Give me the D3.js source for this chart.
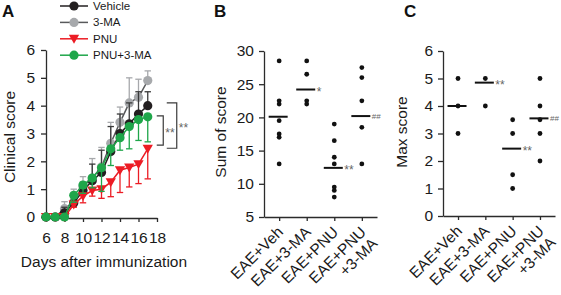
<!DOCTYPE html>
<html>
<head>
<meta charset="utf-8">
<script src="https://cdn.jsdelivr.net/npm/d3@7"></script>
<style>
body { margin: 0; background: #fff; }
svg { display: block; font-family: "Liberation Sans", Arial, sans-serif; }
</style>
</head>
<body>
<div id="chart"></div>
<script>
// ---- panel A: clinical score over time (mean + one-sided SEM)
var days = [6, 7, 8, 9, 10, 11, 12, 13, 14, 15, 16, 17];
var vehicleScore = [0, 0, 0.15, 0.5, 0.95, 1.3, 1.6, 2.35, 3.0, 3.35, 3.7, 4.0];
var vehicleErr   = [0, 0, 0.2, 0.3, 0.3, 0.6, 0.8, 0.9, 0.7, 0.75, 0.8, 0.5];
var maScore      = [0, 0, 0.3, 0.55, 1.1, 1.4, 1.8, 2.65, 3.4, 4.1, 4.3, 4.9];
var maErr        = [0, 0, 0.25, 0.45, 0.35, 0.7, 0.7, 0.75, 0.55, 0.9, 0.65, 0.35];
var pnuScore     = [0, 0, 0, 0.45, 0.75, 0.95, 1.0, 1.25, 1.68, 1.78, 1.9, 2.45];
var pnuErr       = [0, 0, 0, 0.1, 0.24, 0.2, 0.33, 0.52, 0.8, 0.7, 0.7, 1.08];
var pnuMaScore   = [0, 0, 0, 0.78, 1.15, 1.4, 1.77, 2.45, 2.85, 3.25, 3.5, 3.6];
var pnuMaErr     = [0, 0, 0, 0.25, 0.3, 0.35, 0.85, 0.6, 0.45, 0.8, 0.75, 0.9];
var dayTicks = [6, 8, 10, 12, 14, 16, 18];
var scoreTicks = [0, 1, 2, 3, 4, 5, 6];
var legendNames = ["Vehicle", "3-MA", "PNU", "PNU+3-MA"];

// ---- panels B and C: individual animals
var groups = ["EAE+Veh", "EAE+3-MA", "EAE+PNU", "EAE+PNU|+3-MA"];
var sumVeh    = [28.5, 22.5, 22, 19.5, 17.5, 17, 13];
var sumMA     = [28.5, 26.5, 22.5, 22];
var sumPNU    = [19, 16.5, 14, 13, 9.5, 9, 8];
var sumPNUMA  = [27.5, 26, 22.5, 18.5, 13];
var sumMeans  = [20.1, 24.2, 12.4, 20.2];
var sumMarks  = ["", "*", "**", "##"];
var sumTicks  = [5, 10, 15, 20, 25, 30];

var maxVeh    = [5, 4, 3];
var maxMA     = [5, 4];
var maxPNU    = [3.5, 3, 1.5, 1];
var maxPNUMA  = [5, 4, 3.5, 3, 2];
var maxMeans  = [4.0, 4.85, 2.45, 3.55];
var maxMarks  = ["", "**", "**", "##"];
var maxTicks  = [0, 1, 2, 3, 4, 5, 6];

var axisColor = "#2b2b2b", textColor = "#1a1a1a", markColor = "#666";
var fontSize = "15.5px";
var intFormat = d3.format("d");

var svg = d3.select("#chart").append("svg")
    .attr("width", 561)
    .attr("height", 295);
svg.append("rect").attr("width", 561).attr("height", 295).attr("fill", "#fff");

function styleAxis(g) {
    g.attr("font-family", null).attr("font-size", null);
    g.select(".domain").attr("stroke", axisColor).attr("stroke-width", 1.3);
    g.selectAll(".tick line").attr("stroke", axisColor).attr("stroke-width", 1.3);
    g.selectAll(".tick text").attr("fill", textColor).style("font-size", fontSize);
}

function yTitle(x, y, label) {
    svg.append("text")
        .attr("transform", "translate(" + x + "," + y + ") rotate(-90)")
        .attr("text-anchor", "middle")
        .attr("fill", textColor)
        .style("font-size", fontSize)
        .text(label);
}

function panelLetter(x, label) {
    svg.append("text")
        .attr("x", x).attr("y", 17)
        .attr("fill", "#111")
        .style("font-size", "17px")
        .style("font-weight", "bold")
        .text(label);
}

/* ================= Panel A ================= */
var xA = d3.scaleLinear().domain([6, 18]).range([46, 157]);
var yA = d3.scaleLinear().domain([0, 6]).range([217, 50]);

svg.append("g")
    .attr("transform", "translate(0,218)")
    .call(d3.axisBottom(xA).tickValues(dayTicks).tickFormat(intFormat)
        .tickSize(4).tickPadding(10).tickSizeOuter(0))
    .call(styleAxis);
svg.append("g")
    .attr("transform", "translate(46,0)")
    .call(d3.axisLeft(yA).tickValues(scoreTicks).tickFormat(intFormat)
        .tickSize(5).tickPadding(6).tickSizeOuter(0))
    .call(styleAxis);

yTitle(15, 137, "Clinical score");
svg.append("text")
    .attr("x", 104).attr("y", 267)
    .attr("text-anchor", "middle")
    .attr("fill", textColor)
    .style("font-size", fontSize)
    .text("Days after immunization");
panelLetter(2, "A");

var series = {
    "Vehicle":  {mean: vehicleScore, err: vehicleErr, dir: 1, line: "#231f20", fill: "#231f20", bar: "#3a3a3a", shape: "circle"},
    "3-MA":     {mean: maScore, err: maErr, dir: 1, line: "#58595b", fill: "#a7a9ac", bar: "#a7a9ac", shape: "circle"},
    "PNU":      {mean: pnuScore, err: pnuErr, dir: -1, line: "#ec1c24", fill: "#ec1c24", bar: "#ec1c24", shape: "triangle"},
    "PNU+3-MA": {mean: pnuMaScore, err: pnuMaErr, dir: -1, line: "#1fa64a", fill: "#1fa64a", bar: "#1fa64a", shape: "circle"}
};
var drawOrder = ["3-MA", "Vehicle", "PNU", "PNU+3-MA"];

var triangle = d3.symbol().type(d3.symbolTriangle).size(46);

function drawMarker(g, s, x, y) {
    if (s.shape === "triangle") {
        g.append("path")
            .attr("d", triangle)
            .attr("transform", "translate(" + x + "," + (y - 1) + ") rotate(180)")
            .attr("fill", s.fill);
    } else {
        g.append("circle")
            .attr("cx", x).attr("cy", y).attr("r", 4.6)
            .attr("fill", s.fill);
    }
}

var lineGen = d3.line()
    .x(function(d) { return xA(d.day); })
    .y(function(d) { return yA(d.v); });

drawOrder.forEach(function(name) {
    var s = series[name];
    var pts = days.map(function(d, i) { return {day: d, v: s.mean[i], e: s.err[i]}; });
    var g = svg.append("g");
    // error bars
    pts.forEach(function(p) {
        if (p.e <= 0) return;
        var x = xA(p.day), y2 = yA(p.v + s.dir * p.e);
        g.append("line")
            .attr("x1", x).attr("x2", x)
            .attr("y1", yA(p.v)).attr("y2", y2)
            .attr("stroke", s.bar).attr("stroke-width", 1.3);
        g.append("line")
            .attr("x1", x - 3.2).attr("x2", x + 3.2)
            .attr("y1", y2).attr("y2", y2)
            .attr("stroke", s.bar).attr("stroke-width", 1.3);
    });
    g.append("path")
        .datum(pts)
        .attr("d", lineGen)
        .attr("fill", "none")
        .attr("stroke", s.line)
        .attr("stroke-width", 1.5);
    pts.forEach(function(p) { drawMarker(g, s, xA(p.day), yA(p.v)); });
});

// significance brackets at day 17
function bracket(x0, x1, v0, v1, label) {
    var y0 = yA(v0), y1 = yA(v1);
    svg.append("path")
        .attr("d", "M" + x0 + "," + y0 + "H" + x1 + "V" + y1 + "H" + x0)
        .attr("fill", "none")
        .attr("stroke", "#3a3a3a")
        .attr("stroke-width", 1.2);
    svg.append("text")
        .attr("x", x1 + 2).attr("y", (y0 + y1) / 2 + 6)
        .attr("fill", markColor)
        .style("font-size", "12px")
        .text(label);
}
bracket(xA(17) + 9, xA(17) + 15.5, 3.63, 2.58, "**");
bracket(xA(17) + 19, xA(17) + 29, 4.1, 2.47, "**");

// legend
var legend = svg.append("g");
legendNames.forEach(function(name, i) {
    var s = series[name];
    var y = 6 + i * 16.4;
    legend.append("line")
        .attr("x1", 60).attr("x2", 88)
        .attr("y1", y).attr("y2", y)
        .attr("stroke", s.line).attr("stroke-width", 1.5);
    drawMarker(legend, s, 74, y);
    legend.append("text")
        .attr("x", 93).attr("y", y + 4)
        .attr("fill", textColor)
        .style("font-size", "11.5px")
        .text(name);
});

/* ================= Panels B and C ================= */
function dotPanel(opt) {
    var x = d3.scalePoint().domain(groups).range(opt.xRange).padding(0.55);
    var y = d3.scaleLinear().domain(opt.yDomain).range(opt.yRange);

    svg.append("g")
        .attr("transform", "translate(0," + opt.yRange[0] + ")")
        .call(d3.axisBottom(x).tickSize(4).tickFormat("").tickSizeOuter(0))
        .call(styleAxis);
    svg.append("g")
        .attr("transform", "translate(" + opt.xRange[0] + ",0)")
        .call(d3.axisLeft(y).tickValues(opt.ticks).tickFormat(intFormat)
            .tickSize(5).tickPadding(5).tickSizeOuter(0))
        .call(styleAxis);

    // rotated group labels
    groups.forEach(function(gname) {
        var t = svg.append("text")
            .attr("transform", "translate(" + (x(gname) + 5) + "," + (opt.yRange[0] + 16) + ") rotate(-45)")
            .attr("text-anchor", "end")
            .attr("fill", textColor)
            .style("font-size", fontSize);
        gname.split("|").forEach(function(part, k) {
            t.append("tspan").attr("x", 0).attr("dy", k === 0 ? 0 : "1.05em").text(part);
        });
    });

    opt.data.forEach(function(vals, gi) {
        var cx = x(groups[gi]);
        svg.append("g").selectAll("circle")
            .data(vals)
            .enter().append("circle")
            .attr("cx", cx)
            .attr("cy", function(d) { return y(d); })
            .attr("r", 2.4)
            .attr("fill", "#111");
        var my = y(opt.means[gi]);
        svg.append("line")
            .attr("x1", cx - 10.5).attr("x2", cx + 8.5)
            .attr("y1", my).attr("y2", my)
            .attr("stroke", "#111").attr("stroke-width", 2);
        var mark = opt.marks[gi];
        if (mark) {
            var isHash = mark.charAt(0) === "#";
            svg.append("text")
                .attr("x", cx + 10).attr("y", my + (isHash ? 3 : 6))
                .attr("fill", markColor)
                .style("font-size", isHash ? "8px" : "12px")
                .text(mark);
        }
    });

    yTitle(opt.titleX, 132, opt.title);
    panelLetter(opt.letterX, opt.letter);
}

dotPanel({
    xRange: [264, 377], yDomain: [5, 30], yRange: [217, 51], ticks: sumTicks,
    data: [sumVeh, sumMA, sumPNU, sumPNUMA], means: sumMeans, marks: sumMarks,
    title: "Sum of score", titleX: 226, letter: "B", letterX: 214
});

dotPanel({
    xRange: [443, 555], yDomain: [0, 6], yRange: [216, 51], ticks: maxTicks,
    data: [maxVeh, maxMA, maxPNU, maxPNUMA], means: maxMeans, marks: maxMarks,
    title: "Max score", titleX: 407, letter: "C", letterX: 404
});
</script>
</body>
</html>
